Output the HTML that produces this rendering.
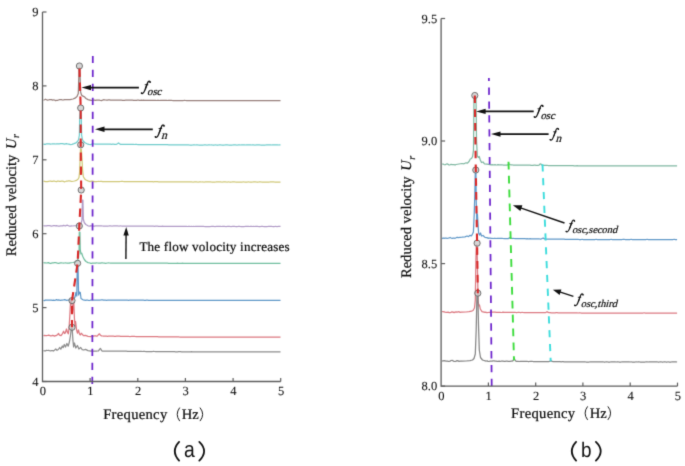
<!DOCTYPE html>
<html><head><meta charset="utf-8"><style>
html,body{margin:0;padding:0;background:#fff;}
body{width:685px;height:466px;overflow:hidden;font-family:"Liberation Serif",serif;}
svg{display:block;text-rendering:geometricPrecision;}
</style></head><body>
<svg width="685" height="466" viewBox="0 0 685 466"><defs><filter id="b" x="0" y="0" width="685" height="466" filterUnits="userSpaceOnUse" color-interpolation-filters="sRGB"><feConvolveMatrix order="3" kernelMatrix="1 6 1 6 36 6 1 6 1" edgeMode="duplicate"/></filter></defs><rect width="685" height="466" fill="#fff"/><g filter="url(#b)"><path d="M43.5 100.3 L44.5 99.8 L45.5 99.2 L46.5 99.7 L47.5 100.2 L48.5 100.0 L49.5 99.6 L50.5 99.6 L51.5 99.7 L52.5 100.1 L53.5 99.8 L54.5 100.0 L55.5 100.6 L56.5 100.4 L57.5 100.4 L58.5 100.0 L59.5 99.7 L60.5 99.6 L61.5 99.6 L62.5 100.0 L63.5 99.9 L64.5 99.6 L65.5 99.6 L66.5 99.5 L67.5 99.5 L68.5 99.7 L69.5 99.6 L70.0 99.6 L73.0 99.0 L75.0 98.2 L77.0 96.5 L78.3 93.5 L79.1 68.0 L79.8 68.0 L80.6 92.0 L81.5 95.0 L83.0 96.2 L84.5 96.8 L86.0 98.5 L88.0 99.6 L91.0 100.3 L91.5 100.3 L92.5 100.3 L93.5 100.1 L94.5 100.1 L95.5 100.4 L96.5 100.1 L97.5 100.1 L98.5 100.1 L99.5 100.2 L100.5 100.5 L101.5 100.6 L102.5 100.2 L103.5 99.7 L104.5 99.8 L105.5 100.0 L106.5 100.2 L107.5 100.2 L108.5 99.9 L109.5 99.9 L110.5 100.2 L111.5 100.2 L112.5 100.2 L113.5 100.2 L114.5 100.1 L115.5 100.1 L116.5 100.2 L117.5 100.2 L118.5 100.2 L119.5 100.1 L120.5 100.1 L121.5 100.2 L122.5 100.3 L123.5 100.3 L124.5 100.3 L125.5 100.2 L126.5 100.1 L127.5 100.2 L128.5 100.2 L129.5 100.2 L130.5 100.2 L131.5 100.2 L132.5 100.2 L133.5 100.3 L134.5 100.3 L135.5 100.3 L136.5 100.3 L137.5 100.2 L138.5 100.2 L139.5 100.3 L140.5 100.3 L141.5 100.2 L142.5 100.3 L143.5 100.2 L144.5 100.3 L145.5 100.3 L146.5 100.3 L147.5 100.3 L148.5 100.3 L149.5 100.3 L150.5 100.3 L151.5 100.3 L152.5 100.4 L153.5 100.4 L154.5 100.3 L155.5 100.4 L156.5 100.5 L157.5 100.4 L158.5 100.4 L159.5 100.5 L160.5 100.4 L161.5 100.4 L162.5 100.4 L163.5 100.4 L164.5 100.4 L165.5 100.4 L166.5 100.4 L167.5 100.5 L168.5 100.4 L169.5 100.4 L170.5 100.4 L171.5 100.4 L172.5 100.5 L173.5 100.5 L174.5 100.5 L175.5 100.5 L176.5 100.5 L177.5 100.5 L178.5 100.5 L179.5 100.5 L180.5 100.5 L181.5 100.5 L182.5 100.5 L183.5 100.5 L184.5 100.4 L185.5 100.5 L186.5 100.6 L187.5 100.6 L188.5 100.5 L189.5 100.5 L190.5 100.5 L191.5 100.5 L192.5 100.5 L193.5 100.5 L194.5 100.5 L195.5 100.5 L196.5 100.5 L197.5 100.6 L198.5 100.6 L199.5 100.6 L200.5 100.6 L201.5 100.6 L202.5 100.6 L203.5 100.5 L204.5 100.6 L205.5 100.6 L206.5 100.6 L207.5 100.5 L208.5 100.5 L209.5 100.6 L210.5 100.6 L211.5 100.6 L212.5 100.6 L213.5 100.5 L214.5 100.5 L215.5 100.6 L216.5 100.6 L217.5 100.6 L218.5 100.5 L219.5 100.5 L220.5 100.6 L221.5 100.6 L222.5 100.6 L223.5 100.6 L224.5 100.6 L225.5 100.6 L226.5 100.6 L227.5 100.6 L228.5 100.5 L229.5 100.5 L230.5 100.6 L231.5 100.6 L232.5 100.6 L233.5 100.6 L234.5 100.6 L235.5 100.6 L236.5 100.6 L237.5 100.6 L238.5 100.5 L239.5 100.5 L240.5 100.5 L241.5 100.5 L242.5 100.6 L243.5 100.6 L244.5 100.5 L245.5 100.5 L246.5 100.6 L247.5 100.5 L248.5 100.5 L249.5 100.6 L250.5 100.6 L251.5 100.6 L252.5 100.6 L253.5 100.6 L254.5 100.6 L255.5 100.6 L256.5 100.6 L257.5 100.5 L258.5 100.6 L259.5 100.6 L260.5 100.5 L261.5 100.5 L262.5 100.5 L263.5 100.6 L264.5 100.6 L265.5 100.6 L266.5 100.6 L267.5 100.6 L268.5 100.5 L269.5 100.5 L270.5 100.5 L271.5 100.5 L272.5 100.5 L273.5 100.6 L274.5 100.5 L275.5 100.5 L276.5 100.5 L277.5 100.5 L278.5 100.5 L279.5 100.6 L280.5 100.6" fill="none" stroke="#98807c" stroke-width="1.25" stroke-linejoin="round"/>
<path d="M43.5 143.9 L44.5 144.4 L45.5 144.3 L46.5 143.8 L47.5 143.9 L48.5 143.9 L49.5 143.9 L50.5 144.1 L51.5 144.0 L52.5 143.8 L53.5 143.8 L54.5 143.8 L55.5 144.0 L56.5 143.8 L57.5 143.8 L58.5 143.9 L59.5 143.8 L60.5 143.7 L61.5 143.6 L62.5 143.7 L63.5 143.9 L64.5 144.2 L65.5 143.9 L66.5 143.6 L67.5 144.0 L68.5 144.2 L69.5 144.2 L70.0 144.6 L72.0 144.3 L74.0 143.6 L76.0 142.8 L77.5 141.5 L78.6 139.5 L79.4 135.0 L79.7 118.0 L80.1 111.0 L80.8 111.0 L81.3 118.0 L81.6 135.0 L82.4 139.5 L83.6 141.5 L85.0 142.8 L87.0 143.8 L89.0 144.4 L91.0 144.6 L91.5 144.1 L92.5 143.9 L93.5 143.8 L94.5 144.0 L95.5 144.1 L96.5 144.1 L97.5 144.0 L98.5 144.0 L99.5 144.1 L100.5 144.0 L101.5 144.1 L102.5 144.2 L103.5 144.2 L104.5 144.2 L105.5 144.2 L106.5 144.2 L107.5 144.1 L108.5 144.2 L109.5 144.2 L110.5 144.1 L111.5 144.3 L112.5 144.2 L113.5 144.2 L114.5 144.3 L115.5 144.3 L116.5 144.3 L117.5 143.8 L118.5 142.9 L119.5 143.8 L120.5 144.4 L121.5 144.4 L122.5 144.3 L123.5 144.4 L124.5 144.4 L125.5 144.4 L126.5 144.4 L127.5 144.4 L128.5 144.4 L129.5 144.4 L130.5 144.4 L131.5 144.4 L132.5 144.4 L133.5 144.4 L134.5 144.5 L135.5 144.4 L136.5 144.4 L137.5 144.5 L138.5 144.5 L139.5 144.6 L140.5 144.5 L141.5 144.5 L142.5 144.5 L143.5 144.5 L144.5 144.5 L145.5 144.5 L146.5 144.5 L147.5 144.5 L148.5 144.6 L149.5 144.6 L150.5 144.6 L151.5 144.6 L152.5 144.6 L153.5 144.6 L154.5 144.6 L155.5 144.6 L156.5 144.6 L157.5 144.7 L158.5 144.7 L159.5 144.7 L160.5 144.7 L161.5 144.7 L162.5 144.7 L163.5 144.7 L164.5 144.7 L165.5 144.7 L166.5 144.7 L167.5 144.7 L168.5 144.8 L169.5 144.8 L170.5 144.8 L171.5 144.8 L172.5 144.8 L173.5 144.8 L174.5 144.8 L175.5 144.8 L176.5 144.8 L177.5 144.8 L178.5 144.9 L179.5 144.9 L180.5 144.9 L181.5 144.9 L182.5 144.9 L183.5 144.9 L184.5 144.9 L185.5 144.9 L186.5 144.9 L187.5 144.9 L188.5 144.9 L189.5 145.0 L190.5 145.0 L191.5 145.0 L192.5 145.0 L193.5 144.9 L194.5 144.9 L195.5 145.0 L196.5 144.9 L197.5 144.9 L198.5 145.0 L199.5 145.0 L200.5 145.0 L201.5 145.0 L202.5 145.0 L203.5 145.0 L204.5 144.9 L205.5 144.9 L206.5 145.0 L207.5 145.0 L208.5 144.9 L209.5 144.9 L210.5 145.0 L211.5 144.9 L212.5 145.0 L213.5 145.0 L214.5 145.0 L215.5 144.9 L216.5 145.0 L217.5 145.0 L218.5 145.0 L219.5 144.9 L220.5 144.9 L221.5 145.0 L222.5 145.0 L223.5 145.0 L224.5 145.0 L225.5 144.9 L226.5 144.9 L227.5 144.9 L228.5 145.0 L229.5 145.0 L230.5 145.0 L231.5 145.0 L232.5 145.0 L233.5 144.9 L234.5 144.9 L235.5 144.9 L236.5 145.0 L237.5 145.0 L238.5 144.9 L239.5 144.9 L240.5 145.0 L241.5 144.9 L242.5 144.9 L243.5 144.9 L244.5 144.9 L245.5 145.0 L246.5 144.9 L247.5 144.9 L248.5 144.9 L249.5 144.9 L250.5 144.9 L251.5 145.0 L252.5 144.9 L253.5 144.9 L254.5 145.0 L255.5 145.0 L256.5 144.9 L257.5 144.9 L258.5 144.9 L259.5 144.9 L260.5 145.0 L261.5 145.0 L262.5 145.0 L263.5 145.0 L264.5 145.0 L265.5 145.0 L266.5 144.9 L267.5 144.9 L268.5 144.9 L269.5 144.9 L270.5 144.9 L271.5 145.0 L272.5 144.9 L273.5 144.9 L274.5 144.9 L275.5 144.9 L276.5 144.9 L277.5 144.9 L278.5 145.0 L279.5 144.9 L280.5 144.9" fill="none" stroke="#70cccc" stroke-width="1.25" stroke-linejoin="round"/>
<path d="M43.5 181.1 L44.5 181.3 L45.5 181.6 L46.5 181.7 L47.5 181.6 L48.5 181.3 L49.5 181.2 L50.5 181.0 L51.5 181.3 L52.5 181.3 L53.5 181.0 L54.5 181.1 L55.5 181.5 L56.5 181.6 L57.5 181.2 L58.5 181.1 L59.5 181.3 L60.5 181.4 L61.5 181.2 L62.5 181.2 L63.5 181.4 L64.5 181.8 L65.5 181.5 L66.5 181.1 L67.5 181.1 L68.5 180.9 L69.5 180.8 L70.5 181.1 L71.5 181.4 L72.0 181.5 L74.5 181.0 L76.5 180.3 L78.0 179.2 L79.0 177.5 L79.6 172.0 L80.1 160.0 L80.5 149.0 L81.3 149.0 L81.9 158.0 L82.6 170.0 L83.3 176.5 L84.5 178.8 L86.0 180.0 L88.0 180.9 L90.0 181.6 L90.5 181.3 L91.5 181.1 L92.5 181.1 L93.5 181.3 L94.5 181.7 L95.5 181.5 L96.5 181.6 L97.5 181.5 L98.5 181.4 L99.5 181.5 L100.5 181.4 L101.5 181.4 L102.5 181.6 L103.5 181.5 L104.5 181.5 L105.5 181.5 L106.5 181.6 L107.5 181.6 L108.5 181.6 L109.5 181.6 L110.5 181.6 L111.5 181.5 L112.5 181.5 L113.5 181.5 L114.5 181.5 L115.5 181.6 L116.5 181.5 L117.5 181.5 L118.5 181.6 L119.5 181.6 L120.5 181.5 L121.5 181.4 L122.5 181.4 L123.5 181.5 L124.5 181.5 L125.5 181.5 L126.5 181.6 L127.5 181.6 L128.5 181.6 L129.5 181.6 L130.5 181.6 L131.5 181.6 L132.5 181.7 L133.5 181.7 L134.5 181.6 L135.5 181.6 L136.5 181.7 L137.5 181.7 L138.5 181.7 L139.5 181.7 L140.5 181.6 L141.5 181.7 L142.5 181.7 L143.5 181.7 L144.5 181.7 L145.5 181.7 L146.5 181.7 L147.5 181.7 L148.5 181.7 L149.5 181.7 L150.5 181.7 L151.5 181.7 L152.5 181.7 L153.5 181.8 L154.5 181.7 L155.5 181.7 L156.5 181.7 L157.5 181.7 L158.5 181.8 L159.5 181.8 L160.5 181.8 L161.5 181.8 L162.5 181.8 L163.5 181.8 L164.5 181.8 L165.5 181.8 L166.5 181.8 L167.5 181.8 L168.5 181.8 L169.5 181.8 L170.5 181.8 L171.5 181.8 L172.5 181.8 L173.5 181.8 L174.5 181.8 L175.5 181.9 L176.5 181.9 L177.5 181.9 L178.5 181.9 L179.5 181.9 L180.5 181.9 L181.5 181.9 L182.5 181.9 L183.5 181.9 L184.5 181.9 L185.5 181.9 L186.5 181.9 L187.5 181.9 L188.5 181.9 L189.5 181.9 L190.5 181.9 L191.5 181.9 L192.5 182.0 L193.5 182.0 L194.5 181.9 L195.5 181.9 L196.5 181.9 L197.5 182.0 L198.5 182.0 L199.5 181.9 L200.5 181.9 L201.5 182.0 L202.5 181.9 L203.5 182.0 L204.5 182.0 L205.5 181.9 L206.5 181.9 L207.5 181.9 L208.5 181.9 L209.5 181.9 L210.5 181.9 L211.5 182.0 L212.5 182.0 L213.5 182.0 L214.5 182.0 L215.5 182.0 L216.5 181.9 L217.5 181.9 L218.5 181.9 L219.5 181.9 L220.5 181.9 L221.5 182.0 L222.5 182.0 L223.5 181.9 L224.5 181.9 L225.5 181.9 L226.5 182.0 L227.5 182.0 L228.5 181.9 L229.5 182.0 L230.5 182.0 L231.5 182.0 L232.5 181.9 L233.5 181.9 L234.5 181.9 L235.5 182.0 L236.5 182.0 L237.5 182.0 L238.5 182.0 L239.5 182.0 L240.5 182.0 L241.5 182.0 L242.5 182.0 L243.5 181.9 L244.5 182.0 L245.5 182.0 L246.5 182.0 L247.5 182.0 L248.5 181.9 L249.5 182.0 L250.5 182.0 L251.5 182.0 L252.5 182.0 L253.5 181.9 L254.5 181.9 L255.5 181.9 L256.5 182.0 L257.5 182.0 L258.5 182.0 L259.5 181.9 L260.5 181.9 L261.5 182.0 L262.5 182.0 L263.5 182.0 L264.5 182.0 L265.5 182.0 L266.5 182.0 L267.5 182.0 L268.5 182.0 L269.5 182.0 L270.5 181.9 L271.5 181.9 L272.5 181.9 L273.5 181.9 L274.5 182.0 L275.5 182.0 L276.5 182.0 L277.5 182.0 L278.5 182.0 L279.5 182.0 L280.5 182.0" fill="none" stroke="#d0c878" stroke-width="1.25" stroke-linejoin="round"/>
<path d="M43.5 225.7 L44.5 225.8 L45.5 225.8 L46.5 225.9 L47.5 225.6 L48.5 225.6 L49.5 225.7 L50.5 225.9 L51.5 226.1 L52.5 225.9 L53.5 225.6 L54.5 225.6 L55.5 225.8 L56.5 225.6 L57.5 225.9 L58.5 226.1 L59.5 226.1 L60.5 225.8 L61.5 225.8 L62.5 225.8 L63.5 225.4 L64.5 225.7 L65.5 225.8 L66.5 225.4 L67.5 225.2 L68.5 225.7 L69.5 226.2 L70.5 226.2 L71.5 225.8 L72.0 226.0 L76.0 225.6 L78.5 225.0 L80.0 224.3 L81.2 223.2 L82.0 220.0 L82.4 200.0 L82.9 200.0 L83.3 219.0 L84.2 222.5 L85.8 224.5 L88.0 225.8 L90.0 226.2 L90.5 225.7 L91.5 225.9 L92.5 225.9 L93.5 226.1 L94.5 226.1 L95.5 225.9 L96.5 225.8 L97.5 225.8 L98.5 225.8 L99.5 225.9 L100.5 225.9 L101.5 225.8 L102.5 226.0 L103.5 226.1 L104.5 226.0 L105.5 226.0 L106.5 226.0 L107.5 226.0 L108.5 226.0 L109.5 225.9 L110.5 225.9 L111.5 226.0 L112.5 226.0 L113.5 225.9 L114.5 225.9 L115.5 225.8 L116.5 225.8 L117.5 225.9 L118.5 226.0 L119.5 226.0 L120.5 225.9 L121.5 226.0 L122.5 226.0 L123.5 226.0 L124.5 226.0 L125.5 226.0 L126.5 226.0 L127.5 226.1 L128.5 226.1 L129.5 226.1 L130.5 226.0 L131.5 226.0 L132.5 226.1 L133.5 226.1 L134.5 226.1 L135.5 226.1 L136.5 226.1 L137.5 226.1 L138.5 226.1 L139.5 226.1 L140.5 226.1 L141.5 226.1 L142.5 226.1 L143.5 226.2 L144.5 226.2 L145.5 226.1 L146.5 226.1 L147.5 226.1 L148.5 226.2 L149.5 226.2 L150.5 226.2 L151.5 226.2 L152.5 226.2 L153.5 226.2 L154.5 226.3 L155.5 226.2 L156.5 226.2 L157.5 226.2 L158.5 226.3 L159.5 226.3 L160.5 226.3 L161.5 226.3 L162.5 226.2 L163.5 226.3 L164.5 226.3 L165.5 226.3 L166.5 226.3 L167.5 226.3 L168.5 226.3 L169.5 226.3 L170.5 226.3 L171.5 226.3 L172.5 226.3 L173.5 226.3 L174.5 226.3 L175.5 226.3 L176.5 226.3 L177.5 226.4 L178.5 226.4 L179.5 226.4 L180.5 226.4 L181.5 226.4 L182.5 226.4 L183.5 226.4 L184.5 226.4 L185.5 226.4 L186.5 226.4 L187.5 226.5 L188.5 226.4 L189.5 226.4 L190.5 226.5 L191.5 226.4 L192.5 226.5 L193.5 226.4 L194.5 226.5 L195.5 226.4 L196.5 226.4 L197.5 226.4 L198.5 226.4 L199.5 226.4 L200.5 226.4 L201.5 226.4 L202.5 226.4 L203.5 226.4 L204.5 226.5 L205.5 226.5 L206.5 226.5 L207.5 226.5 L208.5 226.5 L209.5 226.5 L210.5 226.5 L211.5 226.4 L212.5 226.4 L213.5 226.4 L214.5 226.5 L215.5 226.5 L216.5 226.4 L217.5 226.4 L218.5 226.4 L219.5 226.4 L220.5 226.4 L221.5 226.5 L222.5 226.4 L223.5 226.4 L224.5 226.4 L225.5 226.5 L226.5 226.5 L227.5 226.4 L228.5 226.4 L229.5 226.4 L230.5 226.5 L231.5 226.5 L232.5 226.4 L233.5 226.4 L234.5 226.4 L235.5 226.5 L236.5 226.5 L237.5 226.5 L238.5 226.4 L239.5 226.4 L240.5 226.5 L241.5 226.5 L242.5 226.5 L243.5 226.5 L244.5 226.5 L245.5 226.4 L246.5 226.4 L247.5 226.4 L248.5 226.4 L249.5 226.5 L250.5 226.4 L251.5 226.4 L252.5 226.5 L253.5 226.4 L254.5 226.5 L255.5 226.4 L256.5 226.4 L257.5 226.4 L258.5 226.5 L259.5 226.5 L260.5 226.5 L261.5 226.4 L262.5 226.4 L263.5 226.5 L264.5 226.5 L265.5 226.5 L266.5 226.5 L267.5 226.5 L268.5 226.4 L269.5 226.4 L270.5 226.4 L271.5 226.4 L272.5 226.5 L273.5 226.5 L274.5 226.5 L275.5 226.4 L276.5 226.5 L277.5 226.5 L278.5 226.4 L279.5 226.4 L280.5 226.4" fill="none" stroke="#b09ac6" stroke-width="1.25" stroke-linejoin="round"/>
<path d="M43.5 262.7 L44.5 262.8 L45.5 262.9 L46.5 263.0 L47.5 262.8 L48.5 262.6 L49.5 263.1 L50.5 263.5 L51.5 263.1 L52.5 262.8 L53.5 262.9 L54.5 262.7 L55.5 262.7 L56.5 262.8 L57.5 263.1 L58.5 263.3 L59.5 263.1 L60.5 262.9 L61.5 262.9 L62.5 263.0 L63.5 263.1 L64.5 263.0 L65.5 262.9 L66.5 263.0 L67.5 263.0 L68.5 263.0 L69.5 263.1 L70.0 262.8 L73.0 262.5 L75.0 262.0 L76.5 261.3 L77.7 260.0 L78.6 257.5 L79.1 250.0 L79.3 232.0 L79.9 232.0 L80.2 249.0 L80.9 253.8 L81.7 253.2 L82.8 256.5 L84.3 259.5 L86.0 261.5 L88.0 262.6 L90.0 263.0 L90.5 263.3 L91.5 263.4 L92.5 263.1 L93.5 263.0 L94.5 263.1 L95.5 263.1 L96.5 262.9 L97.5 263.0 L98.5 263.1 L99.5 263.2 L100.5 263.2 L101.5 262.8 L102.5 262.9 L103.5 263.0 L104.5 263.0 L105.5 263.3 L106.5 263.2 L107.5 263.0 L108.5 262.9 L109.5 263.0 L110.5 263.1 L111.5 263.0 L112.5 263.0 L113.5 263.2 L114.5 263.2 L115.5 263.2 L116.5 263.2 L117.5 263.2 L118.5 263.2 L119.5 263.1 L120.5 263.1 L121.5 263.1 L122.5 263.1 L123.5 263.1 L124.5 263.1 L125.5 263.1 L126.5 263.1 L127.5 263.1 L128.5 263.1 L129.5 263.1 L130.5 263.1 L131.5 263.1 L132.5 263.2 L133.5 263.2 L134.5 263.2 L135.5 263.1 L136.5 263.1 L137.5 263.2 L138.5 263.2 L139.5 263.2 L140.5 263.2 L141.5 263.2 L142.5 263.2 L143.5 263.2 L144.5 263.2 L145.5 263.2 L146.5 263.2 L147.5 263.1 L148.5 263.1 L149.5 263.2 L150.5 263.2 L151.5 263.2 L152.5 263.2 L153.5 263.2 L154.5 263.2 L155.5 263.2 L156.5 263.2 L157.5 263.2 L158.5 263.2 L159.5 263.2 L160.5 263.2 L161.5 263.2 L162.5 263.2 L163.5 263.2 L164.5 263.2 L165.5 263.2 L166.5 263.2 L167.5 263.2 L168.5 263.3 L169.5 263.3 L170.5 263.3 L171.5 263.3 L172.5 263.3 L173.5 263.3 L174.5 263.3 L175.5 263.3 L176.5 263.3 L177.5 263.2 L178.5 263.3 L179.5 263.3 L180.5 263.3 L181.5 263.3 L182.5 263.2 L183.5 263.3 L184.5 263.3 L185.5 263.3 L186.5 263.3 L187.5 263.3 L188.5 263.3 L189.5 263.3 L190.5 263.3 L191.5 263.3 L192.5 263.3 L193.5 263.3 L194.5 263.3 L195.5 263.3 L196.5 263.3 L197.5 263.3 L198.5 263.3 L199.5 263.3 L200.5 263.3 L201.5 263.3 L202.5 263.3 L203.5 263.3 L204.5 263.3 L205.5 263.3 L206.5 263.3 L207.5 263.3 L208.5 263.3 L209.5 263.3 L210.5 263.3 L211.5 263.3 L212.5 263.3 L213.5 263.3 L214.5 263.3 L215.5 263.3 L216.5 263.3 L217.5 263.3 L218.5 263.3 L219.5 263.3 L220.5 263.3 L221.5 263.3 L222.5 263.3 L223.5 263.3 L224.5 263.3 L225.5 263.3 L226.5 263.3 L227.5 263.3 L228.5 263.3 L229.5 263.3 L230.5 263.3 L231.5 263.3 L232.5 263.3 L233.5 263.3 L234.5 263.3 L235.5 263.3 L236.5 263.3 L237.5 263.3 L238.5 263.3 L239.5 263.3 L240.5 263.3 L241.5 263.3 L242.5 263.3 L243.5 263.3 L244.5 263.3 L245.5 263.3 L246.5 263.3 L247.5 263.3 L248.5 263.3 L249.5 263.3 L250.5 263.3 L251.5 263.3 L252.5 263.3 L253.5 263.3 L254.5 263.3 L255.5 263.3 L256.5 263.3 L257.5 263.3 L258.5 263.3 L259.5 263.3 L260.5 263.3 L261.5 263.3 L262.5 263.3 L263.5 263.3 L264.5 263.3 L265.5 263.3 L266.5 263.3 L267.5 263.3 L268.5 263.3 L269.5 263.3 L270.5 263.3 L271.5 263.3 L272.5 263.3 L273.5 263.3 L274.5 263.3 L275.5 263.3 L276.5 263.3 L277.5 263.3 L278.5 263.3 L279.5 263.3 L280.5 263.3" fill="none" stroke="#72bea0" stroke-width="1.25" stroke-linejoin="round"/>
<path d="M43.5 300.4 L44.5 300.6 L45.5 300.0 L46.5 300.2 L47.5 300.2 L48.5 300.0 L49.5 300.0 L50.5 300.0 L51.5 300.1 L52.5 300.3 L53.5 300.2 L54.5 300.4 L55.5 300.1 L56.5 299.7 L57.5 300.1 L58.5 299.9 L59.5 300.1 L60.5 300.4 L61.5 300.1 L62.5 300.1 L63.5 300.0 L64.5 299.6 L65.5 299.9 L66.5 300.3 L67.5 300.2 L68.0 300.1 L71.0 299.6 L73.5 298.8 L75.0 297.0 L76.0 292.5 L76.8 296.0 L77.3 266.0 L78.0 266.0 L78.6 295.0 L79.4 292.0 L80.3 292.5 L81.0 298.5 L83.0 299.8 L86.0 300.3 L86.5 300.0 L87.5 300.0 L88.5 300.3 L89.5 300.5 L90.5 300.2 L91.5 300.0 L92.5 300.2 L93.5 300.2 L94.5 300.0 L95.5 300.0 L96.5 300.1 L97.5 300.2 L98.5 300.0 L99.5 300.0 L100.5 300.0 L101.5 299.8 L102.5 299.9 L103.5 300.2 L104.5 300.2 L105.5 300.2 L106.5 300.3 L107.5 300.2 L108.5 300.1 L109.5 300.1 L110.5 300.0 L111.5 300.0 L112.5 300.1 L113.5 300.1 L114.5 300.2 L115.5 300.1 L116.5 300.1 L117.5 300.2 L118.5 300.2 L119.5 300.2 L120.5 300.1 L121.5 300.2 L122.5 300.2 L123.5 300.2 L124.5 300.2 L125.5 300.1 L126.5 300.2 L127.5 300.2 L128.5 300.3 L129.5 300.2 L130.5 300.2 L131.5 300.2 L132.5 300.2 L133.5 300.2 L134.5 300.2 L135.5 300.2 L136.5 300.2 L137.5 300.1 L138.5 300.2 L139.5 300.2 L140.5 300.2 L141.5 300.2 L142.5 300.2 L143.5 300.2 L144.5 300.3 L145.5 300.3 L146.5 300.2 L147.5 300.2 L148.5 300.3 L149.5 300.3 L150.5 300.3 L151.5 300.3 L152.5 300.3 L153.5 300.3 L154.5 300.3 L155.5 300.3 L156.5 300.3 L157.5 300.3 L158.5 300.3 L159.5 300.3 L160.5 300.3 L161.5 300.3 L162.5 300.3 L163.5 300.3 L164.5 300.3 L165.5 300.3 L166.5 300.3 L167.5 300.3 L168.5 300.3 L169.5 300.3 L170.5 300.3 L171.5 300.3 L172.5 300.3 L173.5 300.3 L174.5 300.3 L175.5 300.3 L176.5 300.3 L177.5 300.3 L178.5 300.4 L179.5 300.4 L180.5 300.3 L181.5 300.4 L182.5 300.4 L183.5 300.4 L184.5 300.4 L185.5 300.4 L186.5 300.4 L187.5 300.4 L188.5 300.4 L189.5 300.4 L190.5 300.4 L191.5 300.4 L192.5 300.4 L193.5 300.4 L194.5 300.4 L195.5 300.4 L196.5 300.4 L197.5 300.4 L198.5 300.4 L199.5 300.4 L200.5 300.4 L201.5 300.4 L202.5 300.4 L203.5 300.4 L204.5 300.4 L205.5 300.4 L206.5 300.4 L207.5 300.4 L208.5 300.4 L209.5 300.4 L210.5 300.4 L211.5 300.4 L212.5 300.4 L213.5 300.4 L214.5 300.4 L215.5 300.4 L216.5 300.4 L217.5 300.4 L218.5 300.4 L219.5 300.4 L220.5 300.4 L221.5 300.4 L222.5 300.4 L223.5 300.4 L224.5 300.4 L225.5 300.4 L226.5 300.4 L227.5 300.4 L228.5 300.4 L229.5 300.4 L230.5 300.3 L231.5 300.4 L232.5 300.4 L233.5 300.4 L234.5 300.4 L235.5 300.4 L236.5 300.4 L237.5 300.4 L238.5 300.4 L239.5 300.4 L240.5 300.4 L241.5 300.4 L242.5 300.4 L243.5 300.4 L244.5 300.4 L245.5 300.4 L246.5 300.4 L247.5 300.4 L248.5 300.4 L249.5 300.4 L250.5 300.4 L251.5 300.4 L252.5 300.4 L253.5 300.4 L254.5 300.4 L255.5 300.4 L256.5 300.4 L257.5 300.4 L258.5 300.4 L259.5 300.4 L260.5 300.4 L261.5 300.4 L262.5 300.4 L263.5 300.4 L264.5 300.4 L265.5 300.4 L266.5 300.4 L267.5 300.4 L268.5 300.4 L269.5 300.4 L270.5 300.4 L271.5 300.4 L272.5 300.4 L273.5 300.4 L274.5 300.4 L275.5 300.4 L276.5 300.4 L277.5 300.4 L278.5 300.4 L279.5 300.4 L280.5 300.4" fill="none" stroke="#6098c8" stroke-width="1.25" stroke-linejoin="round"/>
<path d="M43.5 335.6 L44.5 335.4 L45.5 335.7 L46.5 335.7 L47.5 335.5 L48.5 335.2 L49.5 335.4 L50.5 335.8 L51.5 335.8 L52.5 335.3 L53.5 335.7 L54.5 336.1 L55.5 335.6 L56.0 335.6 L57.5 334.8 L58.5 333.4 L59.5 335.2 L61.0 335.6 L62.5 333.6 L63.6 331.2 L64.5 333.5 L65.3 333.0 L66.5 329.0 L67.5 332.5 L68.4 333.8 L69.2 326.0 L69.8 316.0 L70.5 303.0 L71.2 300.2 L71.9 304.0 L72.5 313.0 L73.1 306.0 L73.8 302.5 L74.4 318.0 L75.0 326.0 L75.6 321.5 L76.4 329.0 L77.4 333.2 L78.5 330.0 L79.4 333.8 L80.2 335.0 L81.2 333.2 L82.2 334.2 L83.5 335.6 L85.5 335.4 L88.0 336.4 L91.0 336.7 L91.5 336.0 L92.5 336.1 L93.5 336.1 L94.5 335.8 L95.5 335.8 L96.5 336.2 L97.5 335.9 L98.5 334.5 L99.5 333.8 L100.5 335.3 L101.5 335.9 L102.5 336.0 L103.5 336.1 L104.5 336.2 L105.5 336.1 L106.5 336.2 L107.5 336.3 L108.5 336.2 L109.5 336.2 L110.5 336.2 L111.5 336.2 L112.5 336.1 L113.5 336.2 L114.5 336.3 L115.5 336.3 L116.5 336.2 L117.5 336.2 L118.5 336.2 L119.5 336.2 L120.5 336.3 L121.5 336.4 L122.5 336.4 L123.5 336.4 L124.5 336.4 L125.5 336.4 L126.5 336.4 L127.5 336.4 L128.5 336.4 L129.5 336.5 L130.5 336.5 L131.5 336.4 L132.5 336.4 L133.5 336.4 L134.5 336.4 L135.5 336.5 L136.5 336.5 L137.5 336.5 L138.5 336.5 L139.5 336.5 L140.5 336.6 L141.5 336.6 L142.5 336.6 L143.5 336.5 L144.5 336.6 L145.5 336.6 L146.5 336.6 L147.5 336.6 L148.5 336.6 L149.5 336.6 L150.5 336.6 L151.5 336.6 L152.5 336.7 L153.5 336.7 L154.5 336.7 L155.5 336.7 L156.5 336.7 L157.5 336.7 L158.5 336.8 L159.5 336.8 L160.5 336.8 L161.5 336.8 L162.5 336.8 L163.5 336.8 L164.5 336.8 L165.5 336.8 L166.5 336.8 L167.5 336.8 L168.5 336.8 L169.5 336.8 L170.5 336.9 L171.5 336.8 L172.5 336.9 L173.5 336.9 L174.5 336.9 L175.5 336.9 L176.5 336.9 L177.5 336.9 L178.5 336.9 L179.5 337.0 L180.5 337.0 L181.5 337.0 L182.5 337.0 L183.5 337.0 L184.5 337.0 L185.5 337.0 L186.5 337.1 L187.5 337.1 L188.5 337.1 L189.5 337.1 L190.5 337.0 L191.5 337.1 L192.5 337.1 L193.5 337.1 L194.5 337.0 L195.5 337.1 L196.5 337.1 L197.5 337.0 L198.5 337.1 L199.5 337.1 L200.5 337.0 L201.5 337.0 L202.5 337.0 L203.5 337.0 L204.5 337.0 L205.5 337.1 L206.5 337.1 L207.5 337.1 L208.5 337.0 L209.5 337.1 L210.5 337.1 L211.5 337.0 L212.5 337.0 L213.5 337.1 L214.5 337.0 L215.5 337.1 L216.5 337.1 L217.5 337.1 L218.5 337.0 L219.5 337.0 L220.5 337.0 L221.5 337.1 L222.5 337.1 L223.5 337.1 L224.5 337.0 L225.5 337.1 L226.5 337.1 L227.5 337.0 L228.5 337.1 L229.5 337.1 L230.5 337.0 L231.5 337.1 L232.5 337.1 L233.5 337.0 L234.5 337.0 L235.5 337.0 L236.5 337.0 L237.5 337.0 L238.5 337.1 L239.5 337.1 L240.5 337.1 L241.5 337.1 L242.5 337.0 L243.5 337.0 L244.5 337.0 L245.5 337.1 L246.5 337.1 L247.5 337.1 L248.5 337.0 L249.5 337.0 L250.5 337.0 L251.5 337.0 L252.5 337.1 L253.5 337.1 L254.5 337.1 L255.5 337.1 L256.5 337.0 L257.5 337.0 L258.5 337.0 L259.5 337.1 L260.5 337.0 L261.5 337.0 L262.5 337.1 L263.5 337.1 L264.5 337.0 L265.5 337.1 L266.5 337.1 L267.5 337.1 L268.5 337.1 L269.5 337.1 L270.5 337.1 L271.5 337.0 L272.5 337.0 L273.5 337.1 L274.5 337.0 L275.5 337.0 L276.5 337.1 L277.5 337.1 L278.5 337.0 L279.5 337.1 L280.5 337.1" fill="none" stroke="#dc7880" stroke-width="1.25" stroke-linejoin="round"/>
<path d="M43.5 350.7 L44.5 350.9 L45.5 350.9 L46.5 350.3 L47.5 350.5 L48.5 350.4 L49.5 350.7 L50.5 350.8 L51.5 350.6 L52.5 350.6 L53.5 351.0 L54.0 350.6 L55.8 349.0 L57.0 350.3 L58.3 349.5 L59.7 347.5 L60.8 349.2 L62.3 346.0 L63.2 347.6 L64.3 344.5 L65.5 347.0 L66.9 343.5 L68.2 346.2 L69.4 342.0 L70.4 336.0 L71.3 328.5 L72.2 328.5 L72.9 340.0 L73.6 347.0 L74.4 343.0 L75.8 348.0 L77.4 345.5 L78.9 349.0 L80.7 347.5 L82.2 349.6 L83.8 350.0 L85.5 349.4 L88.0 350.6 L91.0 351.1 L91.5 350.8 L92.5 351.1 L93.5 351.1 L94.5 351.1 L95.5 351.2 L96.5 351.1 L97.5 351.0 L98.5 350.8 L99.5 349.3 L100.5 348.5 L101.5 350.4 L102.5 351.2 L103.5 351.1 L104.5 351.2 L105.5 351.2 L106.5 351.1 L107.5 351.1 L108.5 351.1 L109.5 351.1 L110.5 351.2 L111.5 351.1 L112.5 351.2 L113.5 351.2 L114.5 351.1 L115.5 351.1 L116.5 351.2 L117.5 351.2 L118.5 351.2 L119.5 351.2 L120.5 351.2 L121.5 351.2 L122.5 351.2 L123.5 351.2 L124.5 351.2 L125.5 351.2 L126.5 351.2 L127.5 351.3 L128.5 351.4 L129.5 351.3 L130.5 351.4 L131.5 351.4 L132.5 351.3 L133.5 351.4 L134.5 351.4 L135.5 351.4 L136.5 351.4 L137.5 351.4 L138.5 351.4 L139.5 351.4 L140.5 351.4 L141.5 351.4 L142.5 351.5 L143.5 351.4 L144.5 351.4 L145.5 351.5 L146.5 351.5 L147.5 351.5 L148.5 351.5 L149.5 351.5 L150.5 351.5 L151.5 351.5 L152.5 351.5 L153.5 351.4 L154.5 351.5 L155.5 351.6 L156.5 351.6 L157.5 351.6 L158.5 351.6 L159.5 351.6 L160.5 351.6 L161.5 351.5 L162.5 351.6 L163.5 351.6 L164.5 351.6 L165.5 351.6 L166.5 351.6 L167.5 351.6 L168.5 351.7 L169.5 351.7 L170.5 351.7 L171.5 351.7 L172.5 351.7 L173.5 351.7 L174.5 351.7 L175.5 351.8 L176.5 351.8 L177.5 351.8 L178.5 351.7 L179.5 351.7 L180.5 351.7 L181.5 351.8 L182.5 351.8 L183.5 351.8 L184.5 351.8 L185.5 351.8 L186.5 351.8 L187.5 351.8 L188.5 351.8 L189.5 351.8 L190.5 351.8 L191.5 351.7 L192.5 351.8 L193.5 351.8 L194.5 351.8 L195.5 351.8 L196.5 351.9 L197.5 351.9 L198.5 351.8 L199.5 351.8 L200.5 351.8 L201.5 351.8 L202.5 351.8 L203.5 351.8 L204.5 351.8 L205.5 351.8 L206.5 351.8 L207.5 351.8 L208.5 351.8 L209.5 351.8 L210.5 351.8 L211.5 351.9 L212.5 351.8 L213.5 351.8 L214.5 351.8 L215.5 351.8 L216.5 351.8 L217.5 351.8 L218.5 351.8 L219.5 351.8 L220.5 351.8 L221.5 351.8 L222.5 351.8 L223.5 351.8 L224.5 351.8 L225.5 351.8 L226.5 351.8 L227.5 351.8 L228.5 351.8 L229.5 351.8 L230.5 351.8 L231.5 351.8 L232.5 351.8 L233.5 351.8 L234.5 351.8 L235.5 351.8 L236.5 351.8 L237.5 351.8 L238.5 351.8 L239.5 351.8 L240.5 351.8 L241.5 351.8 L242.5 351.8 L243.5 351.8 L244.5 351.8 L245.5 351.8 L246.5 351.8 L247.5 351.8 L248.5 351.8 L249.5 351.8 L250.5 351.8 L251.5 351.8 L252.5 351.8 L253.5 351.8 L254.5 351.8 L255.5 351.8 L256.5 351.8 L257.5 351.8 L258.5 351.8 L259.5 351.8 L260.5 351.8 L261.5 351.8 L262.5 351.8 L263.5 351.8 L264.5 351.8 L265.5 351.8 L266.5 351.8 L267.5 351.8 L268.5 351.8 L269.5 351.8 L270.5 351.8 L271.5 351.8 L272.5 351.8 L273.5 351.8 L274.5 351.8 L275.5 351.8 L276.5 351.8 L277.5 351.8 L278.5 351.8 L279.5 351.8 L280.5 351.8" fill="none" stroke="#8c8c8c" stroke-width="1.25" stroke-linejoin="round"/>
<path d="M442.1 164.0 L443.1 164.1 L444.1 164.5 L445.1 164.8 L446.1 164.3 L447.1 163.8 L448.1 164.4 L449.1 165.0 L450.1 164.8 L451.1 164.3 L452.1 164.6 L453.1 164.6 L454.1 164.6 L455.1 165.0 L456.0 164.5 L459.0 164.0 L462.0 163.5 L464.0 163.8 L466.0 162.8 L467.5 163.2 L469.0 161.5 L470.3 159.0 L471.5 158.5 L472.6 156.5 L473.5 150.0 L474.0 98.0 L476.0 98.0 L476.5 140.0 L477.3 156.0 L478.3 157.5 L479.2 156.5 L480.3 160.0 L481.5 162.5 L483.0 162.0 L484.5 163.8 L487.0 164.2 L490.0 164.7 L490.1 164.6 L491.1 164.8 L492.1 164.6 L493.1 164.8 L494.1 164.8 L495.1 164.7 L496.1 165.0 L497.1 164.9 L498.1 164.7 L499.1 164.9 L500.1 164.9 L501.1 164.8 L502.1 164.9 L503.1 165.0 L504.1 165.0 L505.1 165.0 L506.1 165.0 L507.1 165.1 L508.1 164.6 L509.1 164.0 L510.1 164.6 L511.1 164.8 L512.1 164.9 L513.1 165.0 L514.1 165.0 L515.1 165.2 L516.1 165.1 L517.1 165.0 L518.1 165.0 L519.1 165.1 L520.1 165.1 L521.1 165.1 L522.1 165.1 L523.1 165.1 L524.1 165.2 L525.1 165.2 L526.1 165.1 L527.1 165.2 L528.1 165.2 L529.1 165.2 L530.1 165.2 L531.1 165.3 L532.1 165.3 L533.1 165.3 L534.1 165.2 L535.1 165.2 L536.1 165.3 L537.1 165.3 L538.1 165.3 L539.1 165.1 L540.1 163.9 L541.1 164.2 L542.1 165.3 L543.1 165.4 L544.1 165.3 L545.1 165.4 L546.1 165.4 L547.1 165.4 L548.1 165.5 L549.1 165.5 L550.1 165.5 L551.1 165.5 L552.1 165.5 L553.1 165.5 L554.1 165.5 L555.1 165.6 L556.1 165.6 L557.1 165.5 L558.1 165.5 L559.1 165.6 L560.1 165.6 L561.1 165.6 L562.1 165.6 L563.1 165.6 L564.1 165.7 L565.1 165.6 L566.1 165.6 L567.1 165.7 L568.1 165.7 L569.1 165.7 L570.1 165.7 L571.1 165.7 L572.1 165.7 L573.1 165.7 L574.1 165.8 L575.1 165.8 L576.1 165.8 L577.1 165.7 L578.1 165.8 L579.1 165.8 L580.1 165.8 L581.1 165.8 L582.1 165.9 L583.1 165.9 L584.1 165.8 L585.1 165.8 L586.1 165.8 L587.1 165.8 L588.1 165.9 L589.1 165.9 L590.1 165.8 L591.1 165.8 L592.1 165.8 L593.1 165.8 L594.1 165.8 L595.1 165.8 L596.1 165.8 L597.1 165.9 L598.1 165.9 L599.1 165.9 L600.1 165.9 L601.1 165.9 L602.1 165.9 L603.1 165.9 L604.1 165.9 L605.1 165.8 L606.1 165.8 L607.1 165.9 L608.1 165.9 L609.1 165.9 L610.1 165.8 L611.1 165.8 L612.1 165.8 L613.1 165.9 L614.1 165.9 L615.1 165.9 L616.1 165.9 L617.1 165.8 L618.1 165.8 L619.1 165.8 L620.1 165.9 L621.1 165.9 L622.1 165.8 L623.1 165.8 L624.1 165.8 L625.1 165.8 L626.1 165.8 L627.1 165.8 L628.1 165.8 L629.1 165.9 L630.1 165.9 L631.1 165.9 L632.1 165.9 L633.1 165.9 L634.1 165.9 L635.1 165.8 L636.1 165.9 L637.1 165.8 L638.1 165.8 L639.1 165.8 L640.1 165.8 L641.1 165.8 L642.1 165.8 L643.1 165.9 L644.1 165.9 L645.1 165.9 L646.1 165.8 L647.1 165.8 L648.1 165.8 L649.1 165.9 L650.1 165.9 L651.1 165.8 L652.1 165.8 L653.1 165.8 L654.1 165.8 L655.1 165.8 L656.1 165.9 L657.1 165.9 L658.1 165.8 L659.1 165.8 L660.1 165.9 L661.1 165.9 L662.1 165.9 L663.1 165.8 L664.1 165.8 L665.1 165.9 L666.1 165.8 L667.1 165.8 L668.1 165.8 L669.1 165.8 L670.1 165.9 L671.1 165.9 L672.1 165.9 L673.1 165.9 L674.1 165.9 L675.1 165.8 L676.1 165.8 L677.1 165.8" fill="none" stroke="#80b8a2" stroke-width="1.25" stroke-linejoin="round"/>
<path d="M442.1 238.6 L443.1 238.0 L444.1 238.4 L445.1 238.0 L446.1 238.0 L447.1 238.3 L448.1 238.2 L449.1 238.0 L450.1 237.5 L451.1 238.0 L452.1 238.4 L453.1 238.2 L454.1 238.2 L455.1 238.3 L456.1 237.8 L457.1 237.2 L458.0 237.6 L462.0 237.2 L465.0 236.8 L467.0 236.0 L468.5 236.6 L470.0 235.3 L471.5 235.8 L472.5 234.0 L473.4 232.0 L474.2 215.0 L474.8 195.0 L475.3 172.0 L475.9 172.0 L476.2 200.0 L476.8 222.0 L477.4 214.0 L478.0 224.0 L478.6 233.0 L479.5 235.0 L480.5 233.0 L481.5 236.0 L483.0 235.5 L485.0 237.4 L488.0 237.8 L488.1 238.3 L489.1 238.2 L490.1 238.2 L491.1 238.3 L492.1 238.4 L493.1 238.5 L494.1 238.4 L495.1 238.4 L496.1 238.5 L497.1 238.4 L498.1 238.3 L499.1 238.4 L500.1 238.4 L501.1 238.3 L502.1 238.4 L503.1 238.5 L504.1 238.6 L505.1 238.5 L506.1 238.5 L507.1 238.7 L508.1 238.6 L509.1 238.1 L510.1 237.5 L511.1 238.2 L512.1 238.5 L513.1 238.4 L514.1 238.5 L515.1 238.6 L516.1 238.7 L517.1 238.7 L518.1 238.5 L519.1 238.6 L520.1 238.7 L521.1 238.7 L522.1 238.7 L523.1 238.7 L524.1 238.7 L525.1 238.7 L526.1 238.8 L527.1 238.7 L528.1 238.8 L529.1 238.8 L530.1 238.7 L531.1 238.8 L532.1 238.8 L533.1 238.8 L534.1 238.8 L535.1 238.9 L536.1 238.9 L537.1 238.9 L538.1 238.9 L539.1 238.9 L540.1 239.0 L541.1 239.0 L542.1 238.5 L543.1 238.0 L544.1 238.7 L545.1 239.1 L546.1 239.1 L547.1 239.0 L548.1 239.0 L549.1 239.0 L550.1 239.1 L551.1 239.0 L552.1 239.1 L553.1 239.2 L554.1 239.2 L555.1 239.1 L556.1 239.1 L557.1 239.2 L558.1 239.2 L559.1 239.1 L560.1 239.1 L561.1 239.2 L562.1 239.2 L563.1 239.2 L564.1 239.2 L565.1 239.3 L566.1 239.3 L567.1 239.3 L568.1 239.3 L569.1 239.3 L570.1 239.3 L571.1 239.3 L572.1 239.4 L573.1 239.4 L574.1 239.3 L575.1 239.4 L576.1 239.4 L577.1 239.4 L578.1 239.4 L579.1 239.5 L580.1 239.5 L581.1 239.5 L582.1 239.4 L583.1 239.5 L584.1 239.5 L585.1 239.5 L586.1 239.5 L587.1 239.5 L588.1 239.5 L589.1 239.5 L590.1 239.5 L591.1 239.5 L592.1 239.5 L593.1 239.5 L594.1 239.5 L595.1 239.5 L596.1 239.4 L597.1 239.5 L598.1 239.5 L599.1 239.5 L600.1 239.5 L601.1 239.5 L602.1 239.5 L603.1 239.5 L604.1 239.5 L605.1 239.5 L606.1 239.5 L607.1 239.5 L608.1 239.5 L609.1 239.5 L610.1 239.5 L611.1 239.4 L612.1 239.5 L613.1 239.5 L614.1 239.5 L615.1 239.5 L616.1 239.5 L617.1 239.5 L618.1 239.5 L619.1 239.5 L620.1 239.5 L621.1 239.5 L622.1 239.5 L623.1 239.4 L624.1 239.4 L625.1 239.5 L626.1 239.5 L627.1 239.5 L628.1 239.5 L629.1 239.5 L630.1 239.5 L631.1 239.4 L632.1 239.5 L633.1 239.5 L634.1 239.5 L635.1 239.5 L636.1 239.5 L637.1 239.5 L638.1 239.5 L639.1 239.5 L640.1 239.5 L641.1 239.5 L642.1 239.5 L643.1 239.6 L644.1 239.5 L645.1 239.5 L646.1 239.5 L647.1 239.4 L648.1 239.5 L649.1 239.5 L650.1 239.5 L651.1 239.5 L652.1 239.5 L653.1 239.5 L654.1 239.5 L655.1 239.5 L656.1 239.5 L657.1 239.5 L658.1 239.5 L659.1 239.5 L660.1 239.5 L661.1 239.5 L662.1 239.5 L663.1 239.5 L664.1 239.5 L665.1 239.5 L666.1 239.5 L667.1 239.6 L668.1 239.6 L669.1 239.5 L670.1 239.5 L671.1 239.5 L672.1 239.5 L673.1 239.5 L674.1 239.4 L675.1 239.5 L676.1 239.5 L677.1 239.5" fill="none" stroke="#6098c8" stroke-width="1.25" stroke-linejoin="round"/>
<path d="M442.1 311.7 L443.1 311.6 L444.1 311.9 L445.1 312.2 L446.1 312.3 L447.1 312.4 L448.1 312.2 L449.1 312.6 L450.1 312.7 L451.1 312.2 L452.1 311.9 L453.1 312.1 L454.1 312.6 L455.1 312.1 L456.1 311.8 L457.1 312.1 L458.1 311.8 L459.1 311.7 L460.1 312.4 L461.1 312.1 L462.0 312.2 L466.0 312.0 L469.0 311.6 L471.5 311.2 L473.0 310.5 L474.5 308.0 L475.3 300.0 L475.9 260.0 L476.3 245.0 L477.0 245.0 L477.5 270.0 L478.1 300.0 L478.8 306.0 L479.5 305.0 L480.3 309.0 L482.0 311.6 L485.0 312.3 L485.1 312.1 L486.1 312.3 L487.1 312.7 L488.1 312.5 L489.1 312.3 L490.1 312.4 L491.1 312.2 L492.1 312.1 L493.1 312.2 L494.1 312.0 L495.1 312.0 L496.1 312.3 L497.1 312.4 L498.1 312.4 L499.1 312.3 L500.1 312.3 L501.1 312.5 L502.1 312.4 L503.1 312.2 L504.1 312.3 L505.1 312.4 L506.1 312.4 L507.1 312.4 L508.1 312.4 L509.1 312.4 L510.1 312.4 L511.1 312.4 L512.1 312.4 L513.1 312.4 L514.1 312.3 L515.1 312.4 L516.1 312.5 L517.1 312.5 L518.1 312.4 L519.1 312.4 L520.1 312.5 L521.1 312.5 L522.1 312.4 L523.1 312.5 L524.1 312.6 L525.1 312.6 L526.1 312.6 L527.1 312.6 L528.1 312.5 L529.1 312.5 L530.1 312.5 L531.1 312.5 L532.1 312.5 L533.1 312.5 L534.1 312.5 L535.1 312.6 L536.1 312.6 L537.1 312.6 L538.1 312.6 L539.1 312.6 L540.1 312.6 L541.1 312.6 L542.1 312.7 L543.1 312.6 L544.1 312.6 L545.1 312.7 L546.1 312.3 L547.1 311.7 L548.1 312.4 L549.1 312.7 L550.1 312.7 L551.1 312.8 L552.1 312.8 L553.1 312.8 L554.1 312.8 L555.1 312.8 L556.1 312.7 L557.1 312.7 L558.1 312.8 L559.1 312.8 L560.1 312.8 L561.1 312.8 L562.1 312.8 L563.1 312.8 L564.1 312.8 L565.1 312.9 L566.1 312.8 L567.1 312.8 L568.1 312.8 L569.1 312.8 L570.1 312.9 L571.1 312.9 L572.1 312.9 L573.1 312.9 L574.1 312.9 L575.1 312.9 L576.1 312.9 L577.1 312.9 L578.1 313.0 L579.1 312.9 L580.1 312.9 L581.1 313.0 L582.1 313.0 L583.1 313.0 L584.1 313.0 L585.1 313.0 L586.1 313.0 L587.1 313.0 L588.1 313.0 L589.1 313.0 L590.1 313.0 L591.1 313.0 L592.1 313.0 L593.1 313.0 L594.1 313.0 L595.1 313.0 L596.1 313.0 L597.1 313.0 L598.1 313.0 L599.1 313.0 L600.1 313.0 L601.1 313.0 L602.1 313.0 L603.1 313.0 L604.1 313.0 L605.1 313.0 L606.1 313.0 L607.1 313.0 L608.1 313.0 L609.1 313.0 L610.1 313.0 L611.1 313.0 L612.1 313.0 L613.1 313.0 L614.1 313.0 L615.1 313.0 L616.1 313.0 L617.1 313.0 L618.1 313.0 L619.1 313.0 L620.1 313.0 L621.1 313.0 L622.1 313.0 L623.1 313.0 L624.1 313.0 L625.1 313.0 L626.1 313.0 L627.1 313.0 L628.1 313.0 L629.1 313.0 L630.1 313.0 L631.1 313.0 L632.1 313.0 L633.1 313.0 L634.1 313.0 L635.1 313.0 L636.1 313.0 L637.1 313.0 L638.1 313.1 L639.1 313.0 L640.1 313.0 L641.1 313.0 L642.1 313.0 L643.1 313.0 L644.1 312.9 L645.1 313.0 L646.1 313.0 L647.1 313.0 L648.1 313.0 L649.1 313.0 L650.1 313.0 L651.1 313.0 L652.1 313.0 L653.1 313.0 L654.1 313.0 L655.1 313.0 L656.1 313.0 L657.1 313.0 L658.1 313.0 L659.1 313.0 L660.1 313.0 L661.1 313.0 L662.1 313.0 L663.1 313.0 L664.1 313.0 L665.1 313.0 L666.1 313.0 L667.1 313.0 L668.1 313.0 L669.1 313.0 L670.1 313.0 L671.1 313.0 L672.1 313.0 L673.1 313.0 L674.1 313.0 L675.1 313.0 L676.1 313.0 L677.1 313.0" fill="none" stroke="#dc7a82" stroke-width="1.25" stroke-linejoin="round"/>
<path d="M442.1 361.2 L443.1 360.9 L444.1 360.7 L445.1 360.9 L446.1 361.1 L447.1 361.0 L448.1 361.3 L449.1 361.3 L450.1 361.1 L451.1 360.5 L452.1 360.3 L453.1 360.9 L454.1 361.4 L455.1 361.5 L456.1 361.1 L457.1 360.6 L458.1 360.9 L459.1 361.4 L460.1 361.2 L461.1 361.0 L462.0 361.2 L466.0 361.0 L470.0 360.6 L472.5 360.0 L474.0 358.5 L475.3 354.0 L476.2 330.0 L476.9 296.0 L477.9 296.0 L478.5 325.0 L479.3 350.0 L480.5 357.5 L482.5 360.0 L486.0 361.2 L486.1 361.0 L487.1 360.9 L488.1 361.4 L489.1 361.5 L490.1 361.0 L491.1 361.0 L492.1 361.1 L493.1 360.8 L494.1 360.9 L495.1 361.1 L496.1 361.1 L497.1 361.3 L498.1 361.3 L499.1 361.1 L500.1 361.3 L501.1 361.2 L502.1 361.0 L503.1 361.2 L504.1 361.4 L505.1 361.3 L506.1 361.2 L507.1 361.2 L508.1 361.3 L509.1 361.3 L510.1 361.3 L511.1 361.2 L512.1 361.2 L513.1 360.6 L514.1 358.3 L515.1 360.2 L516.1 361.3 L517.1 361.3 L518.1 361.3 L519.1 361.5 L520.1 361.4 L521.1 361.3 L522.1 361.3 L523.1 361.4 L524.1 361.4 L525.1 361.4 L526.1 361.4 L527.1 361.4 L528.1 361.5 L529.1 361.5 L530.1 361.4 L531.1 361.4 L532.1 361.4 L533.1 361.5 L534.1 361.5 L535.1 361.5 L536.1 361.5 L537.1 361.5 L538.1 361.5 L539.1 361.6 L540.1 361.6 L541.1 361.6 L542.1 361.6 L543.1 361.5 L544.1 361.5 L545.1 361.5 L546.1 361.6 L547.1 361.6 L548.1 361.5 L549.1 361.5 L550.1 361.2 L551.1 360.7 L552.1 361.4 L553.1 361.6 L554.1 361.7 L555.1 361.7 L556.1 361.7 L557.1 361.6 L558.1 361.7 L559.1 361.7 L560.1 361.7 L561.1 361.8 L562.1 361.7 L563.1 361.7 L564.1 361.8 L565.1 361.8 L566.1 361.8 L567.1 361.8 L568.1 361.9 L569.1 361.9 L570.1 361.8 L571.1 361.9 L572.1 361.9 L573.1 361.9 L574.1 361.9 L575.1 361.8 L576.1 361.8 L577.1 361.8 L578.1 361.8 L579.1 361.9 L580.1 361.9 L581.1 361.9 L582.1 361.9 L583.1 361.9 L584.1 361.9 L585.1 361.9 L586.1 362.0 L587.1 362.0 L588.1 362.0 L589.1 362.0 L590.1 361.9 L591.1 361.9 L592.1 361.9 L593.1 361.9 L594.1 361.9 L595.1 361.9 L596.1 361.9 L597.1 361.9 L598.1 361.9 L599.1 361.9 L600.1 361.9 L601.1 361.9 L602.1 361.9 L603.1 361.9 L604.1 362.0 L605.1 362.0 L606.1 361.9 L607.1 361.9 L608.1 362.0 L609.1 362.0 L610.1 362.0 L611.1 361.9 L612.1 361.9 L613.1 361.9 L614.1 361.9 L615.1 361.9 L616.1 362.0 L617.1 361.9 L618.1 361.9 L619.1 362.0 L620.1 362.0 L621.1 362.0 L622.1 361.9 L623.1 361.9 L624.1 361.9 L625.1 361.9 L626.1 361.9 L627.1 361.9 L628.1 361.9 L629.1 361.9 L630.1 362.0 L631.1 361.9 L632.1 362.0 L633.1 362.0 L634.1 362.0 L635.1 362.0 L636.1 361.9 L637.1 362.0 L638.1 361.9 L639.1 361.9 L640.1 362.0 L641.1 362.0 L642.1 362.0 L643.1 362.0 L644.1 362.0 L645.1 362.0 L646.1 361.9 L647.1 361.9 L648.1 362.0 L649.1 361.9 L650.1 361.9 L651.1 361.9 L652.1 361.9 L653.1 361.9 L654.1 361.9 L655.1 361.9 L656.1 361.9 L657.1 361.9 L658.1 362.0 L659.1 362.0 L660.1 361.9 L661.1 361.9 L662.1 362.0 L663.1 362.0 L664.1 361.9 L665.1 361.9 L666.1 362.0 L667.1 362.0 L668.1 361.9 L669.1 362.0 L670.1 362.0 L671.1 362.0 L672.1 361.9 L673.1 361.9 L674.1 361.9 L675.1 361.9 L676.1 361.9 L677.1 362.0" fill="none" stroke="#858585" stroke-width="1.25" stroke-linejoin="round"/>
<circle cx="79.4" cy="66.0" r="3.1" fill="#c4c4c4" fill-opacity="0.7" stroke="#6a6a6a" stroke-width="0.95"/>
<circle cx="80.7" cy="108.0" r="3.1" fill="#c4c4c4" fill-opacity="0.7" stroke="#6a6a6a" stroke-width="0.95"/>
<circle cx="80.7" cy="144.8" r="3.1" fill="#c4c4c4" fill-opacity="0.7" stroke="#6a6a6a" stroke-width="0.95"/>
<circle cx="81.2" cy="190.0" r="3.1" fill="#c4c4c4" fill-opacity="0.7" stroke="#6a6a6a" stroke-width="0.95"/>
<circle cx="79.3" cy="226.0" r="3.1" fill="#c4c4c4" fill-opacity="0.7" stroke="#6a6a6a" stroke-width="0.95"/>
<circle cx="77.6" cy="263.3" r="3.1" fill="#c4c4c4" fill-opacity="0.7" stroke="#6a6a6a" stroke-width="0.95"/>
<circle cx="72.0" cy="300.6" r="3.1" fill="#c4c4c4" fill-opacity="0.7" stroke="#6a6a6a" stroke-width="0.95"/>
<circle cx="72.0" cy="327.3" r="3.1" fill="#c4c4c4" fill-opacity="0.7" stroke="#6a6a6a" stroke-width="0.95"/>
<circle cx="474.8" cy="95.5" r="3.1" fill="#c4c4c4" fill-opacity="0.7" stroke="#6a6a6a" stroke-width="0.95"/>
<circle cx="475.8" cy="170.0" r="3.1" fill="#c4c4c4" fill-opacity="0.7" stroke="#6a6a6a" stroke-width="0.95"/>
<circle cx="477.1" cy="243.2" r="3.1" fill="#c4c4c4" fill-opacity="0.7" stroke="#6a6a6a" stroke-width="0.95"/>
<circle cx="477.8" cy="293.2" r="3.1" fill="#c4c4c4" fill-opacity="0.7" stroke="#6a6a6a" stroke-width="0.95"/>
<polyline points="79.4,66.0 80.7,108.0 80.7,144.8 81.2,190.0 79.3,226.0 77.6,263.3 72.0,300.6 72.0,327.3" fill="none" stroke="#d82828" stroke-width="2.1" stroke-dasharray="8.3 5.7" stroke-dashoffset="11.4"/>
<polyline points="474.8,95.5 475.8,170.0 477.1,243.2 477.8,293.2" fill="none" stroke="#d82828" stroke-width="2.1" stroke-dasharray="7.6 6.2" stroke-dashoffset="0"/>
<line x1="92.8" y1="55.9" x2="92.3" y2="384" stroke="#6c24cc" stroke-width="1.75" stroke-dasharray="7.2 6.75"/>
<line x1="488.9" y1="77.9" x2="491.7" y2="386.4" stroke="#6c24cc" stroke-width="1.75" stroke-dasharray="7.3 6.57" stroke-dashoffset="4.2"/>
<line x1="508.5" y1="161.8" x2="514.0" y2="360.2" stroke="#3cdc3c" stroke-width="1.9" stroke-dasharray="7.8 6.1"/>
<line x1="542.5" y1="164.3" x2="550.7" y2="361.3" stroke="#3cdcdc" stroke-width="1.9" stroke-dasharray="7.2 6.63"/>
<line x1="138.9" y1="87.6" x2="90.0" y2="87.6" stroke="#111" stroke-width="1.7"/><polygon points="81.5,87.6 91.0,84.9 91.0,90.3" fill="#111"/>
<line x1="152.8" y1="129.3" x2="103.5" y2="129.3" stroke="#111" stroke-width="1.7"/><polygon points="95.0,129.3 104.5,126.6 104.5,132.0" fill="#111"/>
<line x1="125.9" y1="259.1" x2="126.1" y2="234.5" stroke="#111" stroke-width="1.4"/><polygon points="126.2,227.0 128.8,235.5 123.4,235.5" fill="#111"/>
<line x1="533.7" y1="111.4" x2="484.6" y2="111.4" stroke="#111" stroke-width="1.7"/><polygon points="476.1,111.4 485.6,108.7 485.6,114.1" fill="#111"/>
<line x1="548.6" y1="134.1" x2="499.5" y2="134.1" stroke="#111" stroke-width="1.7"/><polygon points="491.0,134.1 500.5,131.4 500.5,136.8" fill="#111"/>
<line x1="564.5" y1="223.0" x2="520.5" y2="207.8" stroke="#111" stroke-width="1.4"/><polygon points="512.9,205.2 522.4,205.3 520.4,211.0" fill="#111"/>
<line x1="573.4" y1="296.3" x2="559.6" y2="291.9" stroke="#111" stroke-width="1.4"/><polygon points="552.9,289.8 561.4,289.4 559.6,295.1" fill="#111"/>
<path d="M42.5 12.0 L42.5 381.5 L280.7 381.5" fill="none" stroke="#5e5e5e" stroke-width="1.3"/><line x1="42.5" y1="381.5" x2="46.5" y2="381.5" stroke="#5e5e5e" stroke-width="1.2"/><line x1="42.5" y1="307.6" x2="46.5" y2="307.6" stroke="#5e5e5e" stroke-width="1.2"/><line x1="42.5" y1="233.7" x2="46.5" y2="233.7" stroke="#5e5e5e" stroke-width="1.2"/><line x1="42.5" y1="159.8" x2="46.5" y2="159.8" stroke="#5e5e5e" stroke-width="1.2"/><line x1="42.5" y1="85.9" x2="46.5" y2="85.9" stroke="#5e5e5e" stroke-width="1.2"/><line x1="42.5" y1="12.0" x2="46.5" y2="12.0" stroke="#5e5e5e" stroke-width="1.2"/><line x1="90.1" y1="381.5" x2="90.1" y2="378.0" stroke="#5e5e5e" stroke-width="1.2"/><line x1="137.8" y1="381.5" x2="137.8" y2="378.0" stroke="#5e5e5e" stroke-width="1.2"/><line x1="185.4" y1="381.5" x2="185.4" y2="378.0" stroke="#5e5e5e" stroke-width="1.2"/><line x1="233.1" y1="381.5" x2="233.1" y2="378.0" stroke="#5e5e5e" stroke-width="1.2"/><line x1="280.7" y1="381.5" x2="280.7" y2="378.0" stroke="#5e5e5e" stroke-width="1.2"/>
<path d="M441.1 18.5 L441.1 386.1 L677.5 386.1" fill="none" stroke="#5e5e5e" stroke-width="1.3"/><line x1="441.1" y1="386.1" x2="445.1" y2="386.1" stroke="#5e5e5e" stroke-width="1.2"/><line x1="441.1" y1="263.6" x2="445.1" y2="263.6" stroke="#5e5e5e" stroke-width="1.2"/><line x1="441.1" y1="141.0" x2="445.1" y2="141.0" stroke="#5e5e5e" stroke-width="1.2"/><line x1="441.1" y1="18.5" x2="445.1" y2="18.5" stroke="#5e5e5e" stroke-width="1.2"/><line x1="488.4" y1="386.1" x2="488.4" y2="382.6" stroke="#5e5e5e" stroke-width="1.2"/><line x1="535.7" y1="386.1" x2="535.7" y2="382.6" stroke="#5e5e5e" stroke-width="1.2"/><line x1="582.9" y1="386.1" x2="582.9" y2="382.6" stroke="#5e5e5e" stroke-width="1.2"/><line x1="630.2" y1="386.1" x2="630.2" y2="382.6" stroke="#5e5e5e" stroke-width="1.2"/><line x1="677.5" y1="386.1" x2="677.5" y2="382.6" stroke="#5e5e5e" stroke-width="1.2"/>
<text x="38.6" y="385.7" text-anchor="end" font-family="Liberation Serif" font-size="12.5" fill="#111" stroke="#111" stroke-width="0.1">4</text>
<text x="38.6" y="311.8" text-anchor="end" font-family="Liberation Serif" font-size="12.5" fill="#111" stroke="#111" stroke-width="0.1">5</text>
<text x="38.6" y="237.9" text-anchor="end" font-family="Liberation Serif" font-size="12.5" fill="#111" stroke="#111" stroke-width="0.1">6</text>
<text x="38.6" y="164.0" text-anchor="end" font-family="Liberation Serif" font-size="12.5" fill="#111" stroke="#111" stroke-width="0.1">7</text>
<text x="38.6" y="90.1" text-anchor="end" font-family="Liberation Serif" font-size="12.5" fill="#111" stroke="#111" stroke-width="0.1">8</text>
<text x="38.6" y="16.2" text-anchor="end" font-family="Liberation Serif" font-size="12.5" fill="#111" stroke="#111" stroke-width="0.1">9</text>
<text x="42.8" y="395.2" text-anchor="middle" font-family="Liberation Serif" font-size="12.5" fill="#111" stroke="#111" stroke-width="0.1">0</text>
<text x="90.4" y="395.2" text-anchor="middle" font-family="Liberation Serif" font-size="12.5" fill="#111" stroke="#111" stroke-width="0.1">1</text>
<text x="138.1" y="395.2" text-anchor="middle" font-family="Liberation Serif" font-size="12.5" fill="#111" stroke="#111" stroke-width="0.1">2</text>
<text x="185.7" y="395.2" text-anchor="middle" font-family="Liberation Serif" font-size="12.5" fill="#111" stroke="#111" stroke-width="0.1">3</text>
<text x="233.4" y="395.2" text-anchor="middle" font-family="Liberation Serif" font-size="12.5" fill="#111" stroke="#111" stroke-width="0.1">4</text>
<text x="281.0" y="395.2" text-anchor="middle" font-family="Liberation Serif" font-size="12.5" fill="#111" stroke="#111" stroke-width="0.1">5</text>
<text x="437.2" y="390.3" text-anchor="end" font-family="Liberation Serif" font-size="12.5" fill="#111" stroke="#111" stroke-width="0.1">8.0</text>
<text x="437.2" y="267.8" text-anchor="end" font-family="Liberation Serif" font-size="12.5" fill="#111" stroke="#111" stroke-width="0.1">8.5</text>
<text x="437.2" y="145.2" text-anchor="end" font-family="Liberation Serif" font-size="12.5" fill="#111" stroke="#111" stroke-width="0.1">9.0</text>
<text x="437.2" y="22.7" text-anchor="end" font-family="Liberation Serif" font-size="12.5" fill="#111" stroke="#111" stroke-width="0.1">9.5</text>
<text x="441.4" y="399.5" text-anchor="middle" font-family="Liberation Serif" font-size="12.5" fill="#111" stroke="#111" stroke-width="0.1">0</text>
<text x="488.7" y="399.5" text-anchor="middle" font-family="Liberation Serif" font-size="12.5" fill="#111" stroke="#111" stroke-width="0.1">1</text>
<text x="536.0" y="399.5" text-anchor="middle" font-family="Liberation Serif" font-size="12.5" fill="#111" stroke="#111" stroke-width="0.1">2</text>
<text x="583.2" y="399.5" text-anchor="middle" font-family="Liberation Serif" font-size="12.5" fill="#111" stroke="#111" stroke-width="0.1">3</text>
<text x="630.5" y="399.5" text-anchor="middle" font-family="Liberation Serif" font-size="12.5" fill="#111" stroke="#111" stroke-width="0.1">4</text>
<text x="677.8" y="399.5" text-anchor="middle" font-family="Liberation Serif" font-size="12.5" fill="#111" stroke="#111" stroke-width="0.1">5</text>
<text x="103.2" y="418.9" font-size="14.6" letter-spacing="0.3" font-family="Liberation Serif" fill="#0c0c0c" stroke="#0c0c0c" stroke-width="0.22">Frequency</text><text x="181.8" y="418.9" font-size="14.6" font-family="Liberation Serif" fill="#0c0c0c" stroke="#0c0c0c" stroke-width="0.22">Hz</text><path d="M179.50 407.90 Q174.70 414.35 179.50 420.80" fill="none" stroke="#1a1a1a" stroke-width="1.0" stroke-linecap="round"/><path d="M200.20 407.90 Q205.40 414.35 200.20 420.80" fill="none" stroke="#1a1a1a" stroke-width="1.0" stroke-linecap="round"/>
<text x="511.1" y="417.7" font-size="14.6" letter-spacing="0.3" font-family="Liberation Serif" fill="#0c0c0c" stroke="#0c0c0c" stroke-width="0.22">Frequency</text><text x="589.7" y="417.7" font-size="14.6" font-family="Liberation Serif" fill="#0c0c0c" stroke="#0c0c0c" stroke-width="0.22">Hz</text><path d="M587.40 406.70 Q582.60 413.15 587.40 419.60" fill="none" stroke="#1a1a1a" stroke-width="1.0" stroke-linecap="round"/><path d="M608.10 406.70 Q613.30 413.15 608.10 419.60" fill="none" stroke="#1a1a1a" stroke-width="1.0" stroke-linecap="round"/>
<text transform="translate(15.6,256.3) rotate(-90)" font-size="14.6" font-family="Liberation Serif" fill="#0c0c0c" stroke="#0c0c0c" stroke-width="0.22">Reduced velocity <tspan font-style="italic" dx="2">U</tspan><tspan font-style="italic" font-size="10" dy="3.5" dx="0.5">r</tspan></text>
<text transform="translate(411.0,278.1) rotate(-90)" font-size="14.6" font-family="Liberation Serif" fill="#0c0c0c" stroke="#0c0c0c" stroke-width="0.22">Reduced velocity <tspan font-style="italic" dx="2">U</tspan><tspan font-style="italic" font-size="10" dy="3.5" dx="0.5">r</tspan></text>
<g transform="translate(140.90,91.10) scale(15.00)"><path d="M0.625,-0.600 C0.615,-0.650 0.565,-0.672 0.515,-0.650 C0.465,-0.625 0.445,-0.570 0.425,-0.490 L0.250,-0.030 C0.210,0.085 0.170,0.150 0.100,0.160 C0.060,0.165 0.035,0.150 0.030,0.130" fill="none" stroke="#111" stroke-width="0.085" stroke-linecap="round"/><path d="M0.41,-0.47 L0.30,-0.14" fill="none" stroke="#111" stroke-width="0.075" stroke-linecap="round"/><path d="M0.255,-0.425 L0.49,-0.425" fill="none" stroke="#111" stroke-width="0.06"/><circle cx="0.605" cy="-0.598" r="0.05" fill="#111"/><circle cx="0.045" cy="0.125" r="0.048" fill="#111"/></g><text transform="translate(147.00,94.80) skewX(-15)" font-size="10.8" font-family="Liberation Serif" fill="#0c0c0c" stroke="#0c0c0c" stroke-width="0.22">osc</text>
<g transform="translate(154.80,134.90) scale(15.00)"><path d="M0.625,-0.600 C0.615,-0.650 0.565,-0.672 0.515,-0.650 C0.465,-0.625 0.445,-0.570 0.425,-0.490 L0.250,-0.030 C0.210,0.085 0.170,0.150 0.100,0.160 C0.060,0.165 0.035,0.150 0.030,0.130" fill="none" stroke="#111" stroke-width="0.085" stroke-linecap="round"/><path d="M0.41,-0.47 L0.30,-0.14" fill="none" stroke="#111" stroke-width="0.075" stroke-linecap="round"/><path d="M0.255,-0.425 L0.49,-0.425" fill="none" stroke="#111" stroke-width="0.06"/><circle cx="0.605" cy="-0.598" r="0.05" fill="#111"/><circle cx="0.045" cy="0.125" r="0.048" fill="#111"/></g><text transform="translate(161.00,138.50) skewX(-15)" font-size="11.8" font-family="Liberation Serif" fill="#0c0c0c" stroke="#0c0c0c" stroke-width="0.22">n</text>
<g transform="translate(533.80,115.00) scale(14.70)"><path d="M0.625,-0.600 C0.615,-0.650 0.565,-0.672 0.515,-0.650 C0.465,-0.625 0.445,-0.570 0.425,-0.490 L0.250,-0.030 C0.210,0.085 0.170,0.150 0.100,0.160 C0.060,0.165 0.035,0.150 0.030,0.130" fill="none" stroke="#111" stroke-width="0.085" stroke-linecap="round"/><path d="M0.41,-0.47 L0.30,-0.14" fill="none" stroke="#111" stroke-width="0.075" stroke-linecap="round"/><path d="M0.255,-0.425 L0.49,-0.425" fill="none" stroke="#111" stroke-width="0.06"/><circle cx="0.605" cy="-0.598" r="0.05" fill="#111"/><circle cx="0.045" cy="0.125" r="0.048" fill="#111"/></g><text transform="translate(540.40,118.80) skewX(-15)" font-size="10.7" font-family="Liberation Serif" fill="#0c0c0c" stroke="#0c0c0c" stroke-width="0.22">osc</text>
<g transform="translate(549.70,137.80) scale(14.20)"><path d="M0.625,-0.600 C0.615,-0.650 0.565,-0.672 0.515,-0.650 C0.465,-0.625 0.445,-0.570 0.425,-0.490 L0.250,-0.030 C0.210,0.085 0.170,0.150 0.100,0.160 C0.060,0.165 0.035,0.150 0.030,0.130" fill="none" stroke="#111" stroke-width="0.085" stroke-linecap="round"/><path d="M0.41,-0.47 L0.30,-0.14" fill="none" stroke="#111" stroke-width="0.075" stroke-linecap="round"/><path d="M0.255,-0.425 L0.49,-0.425" fill="none" stroke="#111" stroke-width="0.06"/><circle cx="0.605" cy="-0.598" r="0.05" fill="#111"/><circle cx="0.045" cy="0.125" r="0.048" fill="#111"/></g><text transform="translate(555.40,141.50) skewX(-15)" font-size="11.3" font-family="Liberation Serif" fill="#0c0c0c" stroke="#0c0c0c" stroke-width="0.22">n</text>
<g transform="translate(565.70,229.60) scale(14.30)"><path d="M0.625,-0.600 C0.615,-0.650 0.565,-0.672 0.515,-0.650 C0.465,-0.625 0.445,-0.570 0.425,-0.490 L0.250,-0.030 C0.210,0.085 0.170,0.150 0.100,0.160 C0.060,0.165 0.035,0.150 0.030,0.130" fill="none" stroke="#111" stroke-width="0.085" stroke-linecap="round"/><path d="M0.41,-0.47 L0.30,-0.14" fill="none" stroke="#111" stroke-width="0.075" stroke-linecap="round"/><path d="M0.255,-0.425 L0.49,-0.425" fill="none" stroke="#111" stroke-width="0.06"/><circle cx="0.605" cy="-0.598" r="0.05" fill="#111"/><circle cx="0.045" cy="0.125" r="0.048" fill="#111"/></g><text transform="translate(571.90,232.60) skewX(-15)" font-size="10.4" font-family="Liberation Serif" fill="#0c0c0c" stroke="#0c0c0c" stroke-width="0.22">osc,second</text>
<g transform="translate(574.20,303.40) scale(14.30)"><path d="M0.625,-0.600 C0.615,-0.650 0.565,-0.672 0.515,-0.650 C0.465,-0.625 0.445,-0.570 0.425,-0.490 L0.250,-0.030 C0.210,0.085 0.170,0.150 0.100,0.160 C0.060,0.165 0.035,0.150 0.030,0.130" fill="none" stroke="#111" stroke-width="0.085" stroke-linecap="round"/><path d="M0.41,-0.47 L0.30,-0.14" fill="none" stroke="#111" stroke-width="0.075" stroke-linecap="round"/><path d="M0.255,-0.425 L0.49,-0.425" fill="none" stroke="#111" stroke-width="0.06"/><circle cx="0.605" cy="-0.598" r="0.05" fill="#111"/><circle cx="0.045" cy="0.125" r="0.048" fill="#111"/></g><text transform="translate(580.80,306.70) skewX(-15)" font-size="10.4" font-family="Liberation Serif" fill="#0c0c0c" stroke="#0c0c0c" stroke-width="0.22">osc,third</text>
<text x="139.4" y="250.9" font-size="13.1" letter-spacing="0.2" font-family="Liberation Serif" fill="#0c0c0c" stroke="#0c0c0c" stroke-width="0.22">The flow volocity increases</text>
<path d="M179.1 441.9 Q170.5 451.2 179.1 460.6" fill="none" stroke="#111" stroke-width="1.8" stroke-linecap="round"/>
<path d="M199.3 441.9 Q208.9 451.2 199.3 460.6" fill="none" stroke="#111" stroke-width="1.8" stroke-linecap="round"/>
<text transform="translate(184.0,456.6) scale(0.86,1)" font-size="22.5" font-family="Liberation Sans" fill="#111">a</text>
<path d="M576.1 441.9 Q567.5 451.2 576.1 460.6" fill="none" stroke="#111" stroke-width="1.8" stroke-linecap="round"/>
<path d="M595.9 441.9 Q605.5 451.2 595.9 460.6" fill="none" stroke="#111" stroke-width="1.8" stroke-linecap="round"/>
<text transform="translate(580.9,457.1) scale(0.9,1)" font-size="21" font-family="Liberation Sans" fill="#111">b</text></g></svg>
</body></html>
